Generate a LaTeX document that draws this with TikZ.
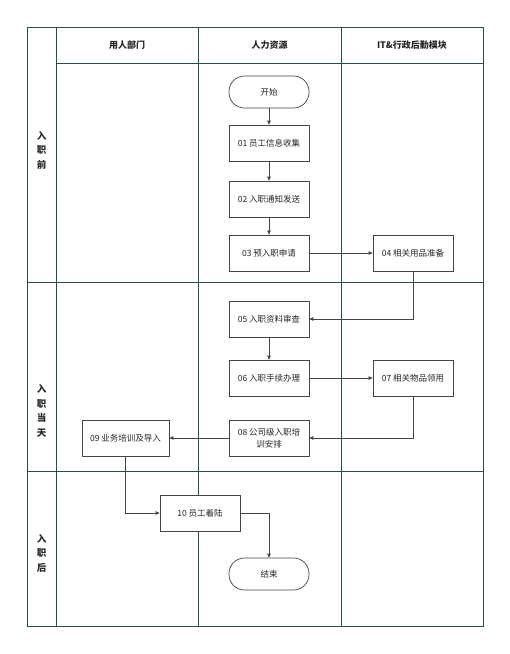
\documentclass[tikz,border=0pt]{standalone}
\usepackage{fontspec}
\setmainfont{Noto Sans CJK SC}
\usetikzlibrary{arrows.meta}
\definecolor{grid}{HTML}{2D4F40}
\definecolor{boxline}{HTML}{444444}
\begin{document}
\begin{tikzpicture}[x=1pt,y=-1pt,
  gridline/.style={draw=grid,line width=0.8pt},
  stepbox/.style={draw=boxline,line width=0.7pt,fill=white,minimum width=80pt,minimum height=36pt,font=\fontsize{8.5}{12}\selectfont,align=center,inner sep=1pt,text=black!85},
  term/.style={draw=boxline,line width=0.7pt,fill=white,rounded corners=15.5pt,minimum width=80pt,minimum height=32pt,font=\fontsize{8.5}{11}\selectfont,text=black!85},
  flow/.style={draw=boxline,line width=0.7pt,-{Triangle[length=4pt,width=3.5pt]}},
  head/.style={font=\fontsize{9}{11}\selectfont\bfseries,text=black!85},
  phase/.style={font=\fontsize{9.5}{14.5}\selectfont\bfseries,align=center,text=black!85}]
\useasboundingbox (0,0) rectangle (510,654);
% grid
\draw[gridline] (27,27) rectangle (483,626);
\draw[gridline] (56,27) -- (56,626);
\draw[gridline] (198,27) -- (198,626);
\draw[gridline] (341,27) -- (341,626);
\draw[gridline] (56,63) -- (483,63);
\draw[gridline] (27,282) -- (483,282);
\draw[gridline] (27,471) -- (483,471);
% headers
\node[head] (h1) at (127,45) {用人部门};
\node[head] (h2) at (269.5,45) {人力资源};
\node[head] (h3) at (412,45) {IT\&行政后勤模块};
\node[phase] (p1) at (41.5,150) {入\\职\\前};
\node[phase] (p2) at (41.5,411) {入\\职\\当\\天};
\node[phase] (p3) at (41.5,553) {入\\职\\后};
% nodes
\node[term] (start) at (269,92) {开始};
\node[stepbox] (n1) at (269,143) {01 员工信息收集};
\node[stepbox] (n2) at (269,199) {02 入职通知发送};
\node[stepbox] (n3) at (269,253) {03 预入职申请};
\node[stepbox] (n4) at (413,253) {04 相关用品准备};
\node[stepbox] (n5) at (269,319) {05 入职资料审查};
\node[stepbox] (n6) at (269,378) {06 入职手续办理};
\node[stepbox] (n7) at (413,378) {07 相关物品领用};
\node[stepbox] (n8) at (269,438) {08 公司级入职培\\训安排};
\node[stepbox,minimum width=87pt] (n9) at (125.5,438) {09 业务培训及导入};
\node[stepbox] (n10) at (200,513) {10 员工着陆};
\node[term] (end) at (269,574) {结束};
% edges
\draw[flow] (start) -- (n1);
\draw[flow] (n1) -- (n2);
\draw[flow] (n2) -- (n3);
\draw[flow] (n3) -- (n4);
\draw[flow] (n4.south) |- (n5.east);
\draw[flow] (n5) -- (n6);
\draw[flow] (n6) -- (n7);
\draw[flow] (n7.south) |- (n8.east);
\draw[flow] (n8) -- (n9);
\draw[flow] (n9.south) |- (n10.west);
\draw[flow] (n10.east) -| (end.north);
\end{tikzpicture}
\end{document}
